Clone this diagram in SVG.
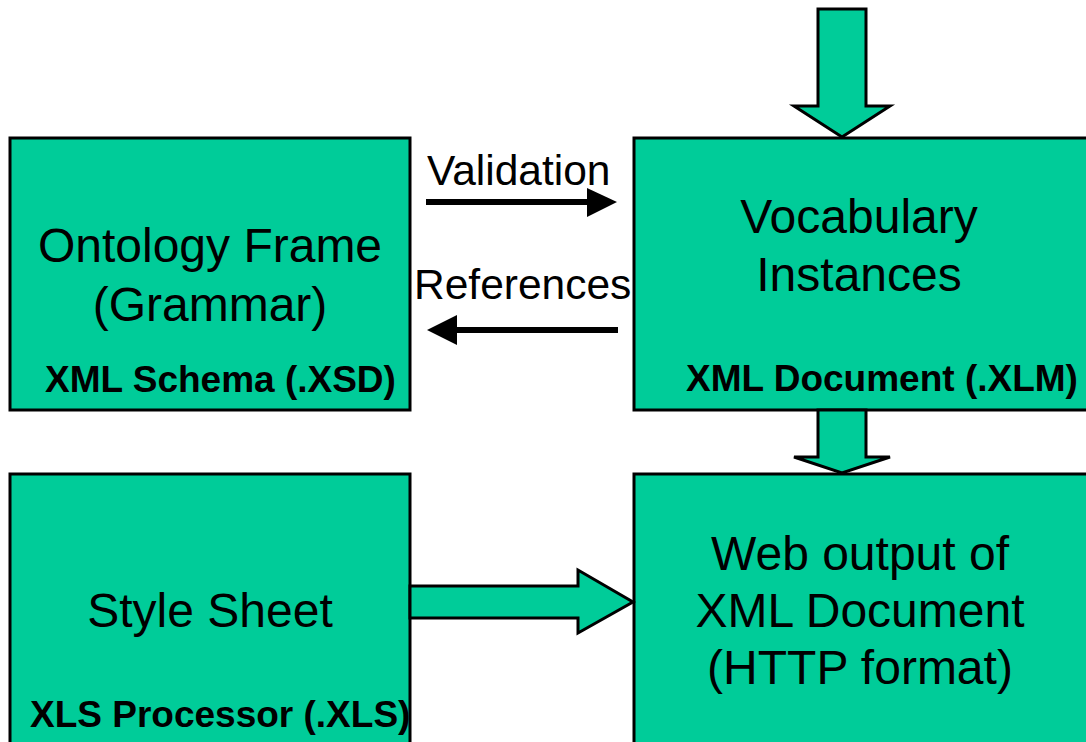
<svg xmlns="http://www.w3.org/2000/svg" width="1086" height="742" viewBox="0 0 1086 742">
<style>
.box{fill:#00CC99;stroke:#000;stroke-width:3}
.blk{fill:#00CC99;stroke:#000;stroke-width:3;stroke-linejoin:miter}
.t{font-family:"Liberation Sans",Arial,sans-serif;font-size:48px;fill:#000;text-anchor:middle}
.b{font-family:"Liberation Sans",Arial,sans-serif;font-size:37px;font-weight:bold;fill:#000}
.lbl{font-family:"Liberation Sans",Arial,sans-serif;font-size:42.5px;fill:#000}
.ln{stroke:#000;stroke-width:6;fill:none}
.hd{fill:#000}
</style>
<rect width="1086" height="742" fill="#fff"/>
<g id="node-ontology">
<rect class="box" x="10" y="138" width="400" height="272"/>
<text class="t" x="210" y="262">Ontology Frame</text>
<text class="t" x="210" y="321">(Grammar)</text>
<text class="b" x="45" y="392">XML Schema (.XSD)</text>
</g>
<g id="node-vocabulary">
<rect class="box" x="634" y="138" width="470" height="272"/>
<text class="t" x="859" y="233">Vocabulary</text>
<text class="t" x="859" y="291">Instances</text>
<text class="b" x="686" y="391">XML Document (.XLM)</text>
</g>
<g id="node-stylesheet">
<rect class="box" x="10" y="474" width="400" height="300"/>
<text class="t" x="210" y="627">Style Sheet</text>
<text class="b" x="30" y="727">XLS Processor (.XLS)</text>
</g>
<g id="node-webout">
<rect class="box" x="634" y="474" width="470" height="300"/>
<text class="t" x="860" y="570">Web output of</text>
<text class="t" x="860" y="627">XML Document</text>
<text class="t" x="860" y="684">(HTTP format)</text>
</g>
<g id="connectors">
<polygon class="blk" points="818,9 866,9 866,106 890,106 842,137 794,106 818,106"/>
<polygon class="blk" points="818,410 866,410 866,457 890,457 842,473 794,457 818,457"/>
<polygon class="blk" points="410,586 578,586 578,570 633,602 578,633 578,618 410,618"/>
<line class="ln" x1="426" y1="202" x2="590" y2="202"/>
<polygon class="hd" points="587,188 617,202 587,217"/>
<text class="lbl" x="427" y="185">Validation</text>
<line class="ln" x1="618" y1="330" x2="454" y2="330"/>
<polygon class="hd" points="457,315 427,330 457,345"/>
<text class="lbl" x="414" y="299">References</text>
</g>
</svg>
